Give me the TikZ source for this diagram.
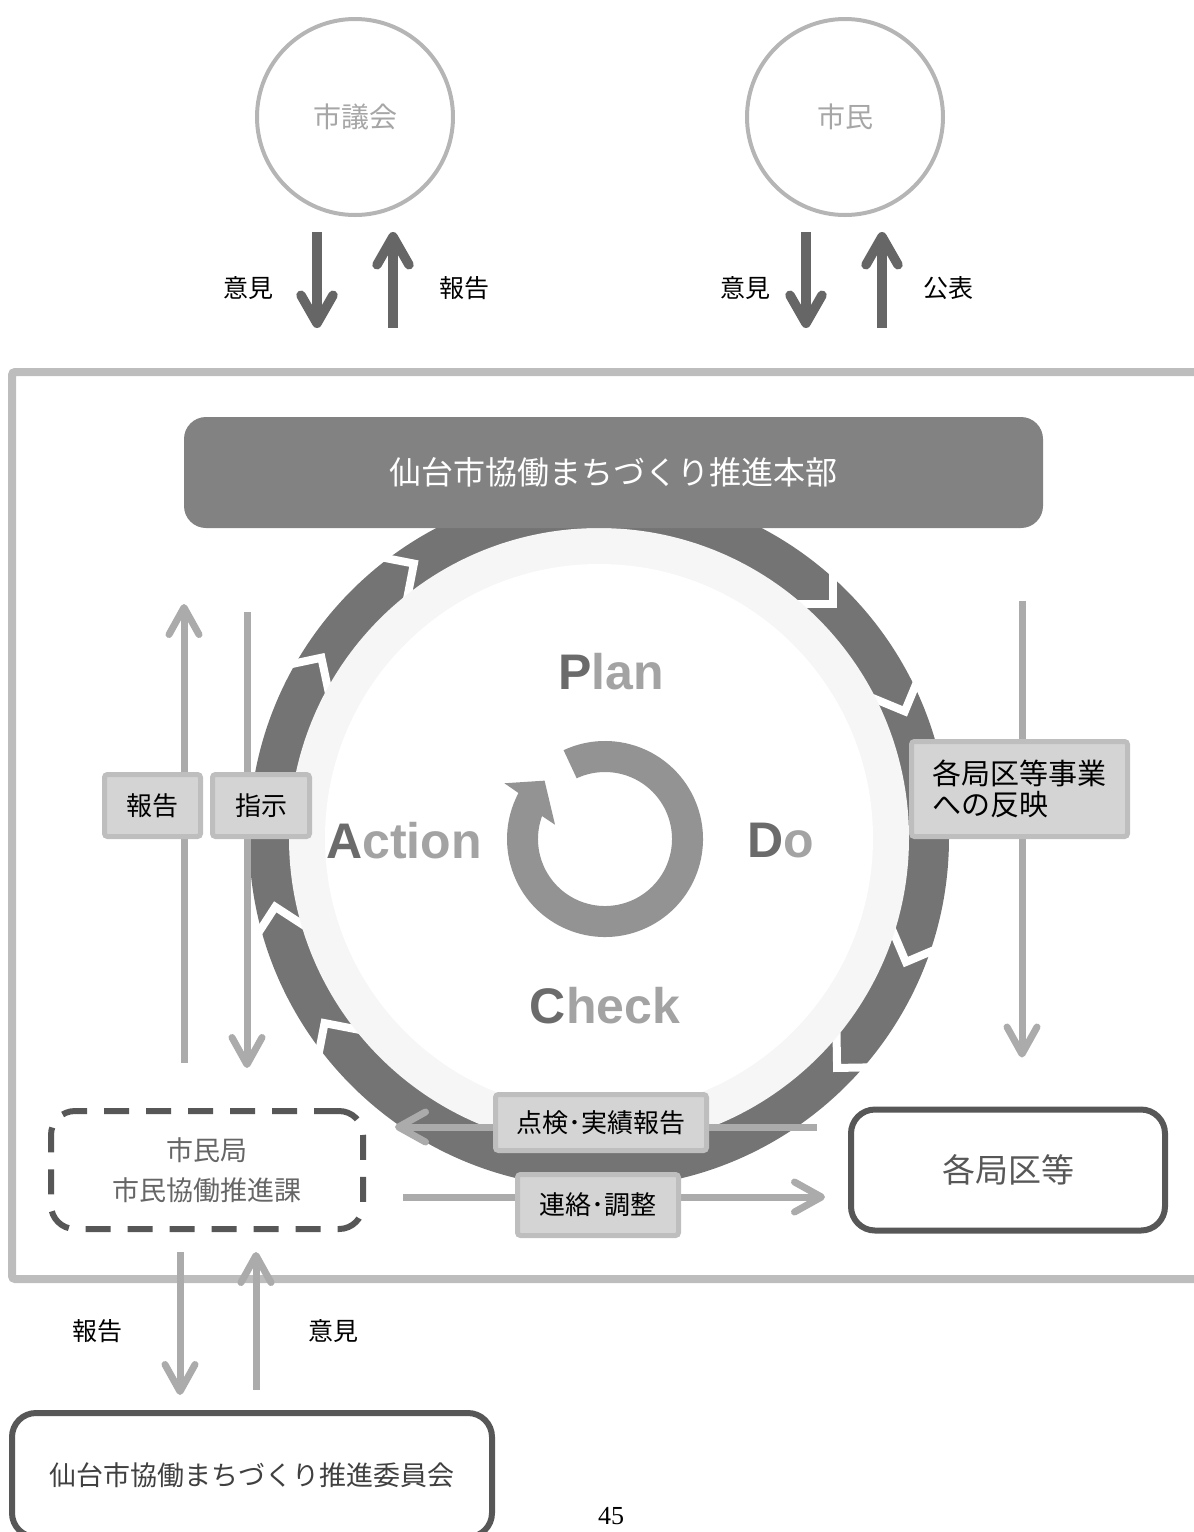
\documentclass[tikz,border=0pt]{standalone}
\usepackage{fontspec}
\setmainfont{Noto Sans CJK JP}
\newfontfamily\pdcafont{Liberation Sans}
\newfontfamily\pagefont{Liberation Serif}
\usetikzlibrary{arrows.meta}

\definecolor{circgray}{HTML}{B5B5B5}
\definecolor{circtext}{HTML}{A6A6A6}
\definecolor{arrdark}{HTML}{666666}
\definecolor{arrlight}{HTML}{ABABAB}
\definecolor{framegray}{HTML}{BDBDBD}
\definecolor{hqgray}{HTML}{828282}
\definecolor{ringgray}{HTML}{747474}
\definecolor{ringlight}{HTML}{F6F6F6}
\definecolor{cyclegray}{HTML}{939393}
\definecolor{tagfill}{HTML}{D4D4D4}
\definecolor{tagedge}{HTML}{BEBEBE}
\definecolor{boxedge}{HTML}{575757}
\definecolor{pdcadark}{HTML}{6B6B6B}
\definecolor{pdcalight}{HTML}{A3A3A3}

\tikzset{
  party/.style={circle, draw=circgray, line width=4pt, minimum size=196pt, inner sep=0pt,
    text=circtext, font=\fontsize{28}{34}\selectfont},
  darkarr/.style={draw=arrdark, line width=9.5pt, -{Straight Barb[round,length=28pt,width=32pt]}},
  lightarr/.style={draw=arrlight, line width=7pt, -{Straight Barb[round,length=27pt,width=30pt]}},
  lbl/.style={font=\fontsize{25}{30}\selectfont, text=black},
  tag/.style={draw=tagedge, fill=tagfill, line width=5pt, rounded corners=3pt, inner sep=0pt,
    font=\fontsize{26}{31}\selectfont},
  unit/.style={draw=boxedge, line width=6pt, rounded corners=24pt, inner sep=0pt, fill=white},
  chev/.style={white, line width=8pt},
  pdca/.style={font=\pdcafont\bfseries\fontsize{50}{60}\selectfont, text=pdcalight},
}

\begin{document}
\begin{tikzpicture}[x=1pt,y=-1pt]
\useasboundingbox (0,0) rectangle (1194,1532);

%% outer frame
\draw[framegray, line width=8pt, rounded corners=3pt] (1220,372) -| (12,1279) -- (1220,1279);

%% council and citizens
\node[party] (gikai) at (355,117) {市議会};
\node[party] (shimin) at (845,117) {市民};

\draw[darkarr] ([xshift=-38pt,yshift=-15pt]gikai.south) -- ([xshift=-38pt,yshift=-111pt]gikai.south);   %% opinion
\draw[darkarr] ([xshift=38pt,yshift=-111pt]gikai.south) -- ([xshift=38pt,yshift=-15pt]gikai.south);     %% report
\draw[darkarr] ([xshift=-39pt,yshift=-15pt]shimin.south) -- ([xshift=-39pt,yshift=-111pt]shimin.south); %% opinion
\draw[darkarr] ([xshift=37pt,yshift=-111pt]shimin.south) -- ([xshift=37pt,yshift=-15pt]shimin.south);   %% publish

\node[lbl] (lIkenA) at (248,288) {意見};
\node[lbl] (lHoukokuA) at (464,288) {報告};
\node[lbl] (lIkenB) at (745,288) {意見};
\node[lbl] (lKouhyou) at (948,288) {公表};

%% PDCA ring
\coordinate (c) at (599,838);
\fill[ringgray] (c) circle (350pt);
\foreach \a in {124,147,192,214,-44,-22,22.5,45}
  \draw[chev] (c) ++(\a:331pt) ++(\a+45:50pt) -- ++(\a-135:50pt) -- ++(\a+135:50pt);
\fill[ringlight] (c) circle (310pt);
\fill[white] (c) circle (274pt);

%% cycle arrow in the middle
\coordinate (cc) at (605,839);
\fill[cyclegray] ([shift={(115:98pt)}]cc) arc[start angle=115, end angle=-208, radius=98pt]
  -- ([shift={(151:115pt)}]cc) -- ([shift={(136:84pt)}]cc) -- ([shift={(164:52pt)}]cc)
  -- ([shift={(160:67pt)}]cc) arc[start angle=160, end angle=475, radius=67pt] -- cycle;

\node[pdca] (plan) at (611,672) {\textcolor{pdcadark}{P}lan};
\node[pdca] (act) at (404,841) {\textcolor{pdcadark}{A}ction};
\node[pdca] (do) at (781,841) {\textcolor{pdcadark}{D}o};
\node[pdca] (check) at (605,1006) {\textcolor{pdcadark}{C}heck};

%% headquarters
\node[fill=hqgray, rounded corners=22pt, minimum width=859pt, minimum height=111pt, text=white,
  font=\fontsize{32}{38}\selectfont] (hq) at (613.5,472.5) {仙台市協働まちづくり推進本部};

%% offices
\node[unit, dash pattern=on 25pt off 17pt, minimum width=312pt, minimum height=118pt, align=center,
  text=arrdark, font=\fontsize{27}{40}\selectfont] (civic) at (207,1170) {市民局\\市民協働推進課};
\node[unit, minimum width=314pt, minimum height=121pt, text=boxedge,
  font=\fontsize{33}{40}\selectfont] (kaku) at (1008,1170) {各局区等};
\node[unit, minimum width=480pt, minimum height=124pt, text=black!75,
  font=\fontsize{27}{32}\selectfont] (iinkai) at (252,1475) {仙台市協働まちづくり推進委員会};

%% light arrows
\draw[lightarr] ([xshift=-23pt,yshift=45pt]civic.north) -- ([xshift=-23pt,yshift=504pt]civic.north);  %% report up
\draw[lightarr] ([xshift=40pt,yshift=496pt]civic.north) -- ([xshift=40pt,yshift=40pt]civic.north);    %% order down
\draw[lightarr] ([xshift=14pt,yshift=506pt]kaku.north) -- ([xshift=14pt,yshift=49pt]kaku.north);      %% reflect
\draw[lightarr] ([xshift=-31pt,yshift=43pt]kaku.west) -- ([xshift=29pt,yshift=43pt]civic.east);       %% check
\draw[lightarr] ([xshift=37pt,yshift=-27pt]civic.east) -- ([xshift=-23pt,yshift=-27pt]kaku.west);     %% contact
\draw[lightarr] ([xshift=-27pt,yshift=-20pt]civic.south) -- ([xshift=-72pt,yshift=15pt]iinkai.north); %% report down
\draw[lightarr] ([xshift=4pt,yshift=20pt]iinkai.north) -- ([xshift=49pt,yshift=-20pt]civic.south);    %% opinion up

\node[lbl] (lHoukokuB) at (97,1331) {報告};
\node[lbl] (lIkenC) at (333,1331) {意見};

%% tags
\node[tag, minimum width=96pt, minimum height=62pt] (tHoukoku) at (152.5,805.5) {報告};
\node[tag, minimum width=97pt, minimum height=62pt] (tShiji) at (261,805.5) {指示};
\node[tag, minimum width=216pt, minimum height=95pt, text width=174pt, align=left,
  font=\fontsize{29}{31}\selectfont] (tHanei) at (1019.5,789) {各局区等事業\\への反映};
\node[tag, minimum width=211pt, minimum height=56pt] (tTenken) at (601,1122.5) {点検･実績報告};
\node[tag, minimum width=161pt, minimum height=61pt] (tRenraku) at (598,1205) {連絡･調整};

%% page number
\node[font=\pagefont\fontsize{26}{30}\selectfont, anchor=north, inner sep=0pt] (pageno) at (611,1507) {45};
\end{tikzpicture}
\end{document}
